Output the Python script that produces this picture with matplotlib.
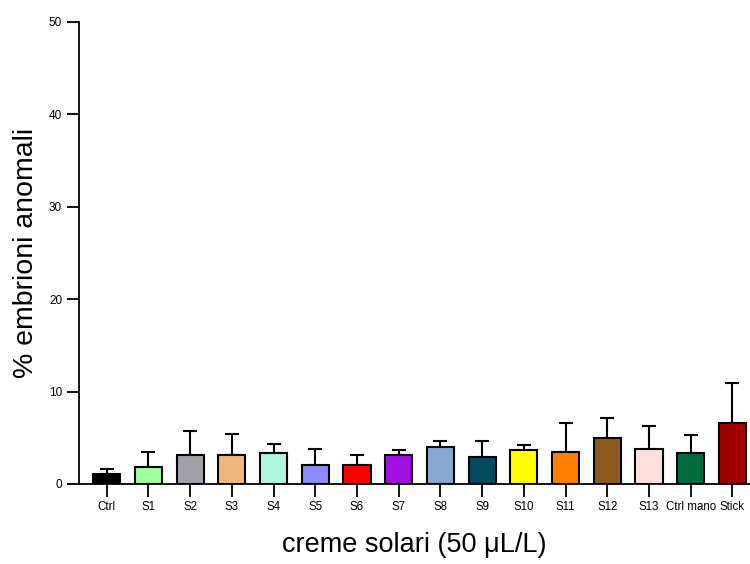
import matplotlib.pyplot as plt
import numpy as np

plt.rcParams['font.family'] = ['Liberation Sans', 'DejaVu Sans']

categories = ['Ctrl', 'S1', 'S2', 'S3', 'S4', 'S5', 'S6', 'S7', 'S8', 'S9',
              'S10', 'S11', 'S12', 'S13', 'Ctrl mano', 'Stick']
means = [1.05, 1.85, 3.17, 3.17, 3.39, 2.02, 2.09, 3.17, 4.0, 2.96,
         3.68, 3.5, 4.98, 3.75, 3.39, 6.6]
# upper error bar (SD), read as top whisker minus mean
errors = [0.55, 1.6, 2.57, 2.28, 0.98, 1.73, 1.01, 0.51, 0.65, 1.66,
          0.58, 3.1, 2.2, 2.53, 1.95, 4.3]
colors = ['#000000', '#A0FFA0', '#A0A0A8', '#F0B880', '#B0F5E0', '#8C8CFF',
          '#FF0000', '#A010E0', '#88A8D0', '#054A60', '#FFFF00', '#FF8000',
          '#8C5A20', '#FFE0E0', '#006A40', '#A00000']

fig = plt.figure(figsize=(7.5, 5.64), dpi=100)
ax = fig.add_axes([0.105, 0.142, 0.895, 0.819])

x = np.arange(len(categories))
ax.bar(x, means, width=0.65, color=colors, edgecolor='black', linewidth=1.5, zorder=2)
ax.errorbar(x, means, yerr=[np.zeros(len(errors)), errors], fmt='none',
            ecolor='black', elinewidth=1.5, capsize=5, capthick=1.5, zorder=1)

ax.set_xlim(-0.67, 15.42)
ax.set_ylim(0, 50)
ax.set_yticks([0, 10, 20, 30, 40, 50])
ax.set_xticks(x)
ax.set_xticklabels(categories, fontsize=8.3)
ax.tick_params(axis='y', labelsize=8.5, length=9, width=1.3, pad=3)
ax.tick_params(axis='x', length=9, width=1.3, pad=3)

ax.spines['top'].set_visible(False)
ax.spines['right'].set_visible(False)
ax.spines['left'].set_linewidth(1.3)
ax.spines['bottom'].set_linewidth(1.3)

ax.set_ylabel('% embrioni anomali', fontsize=20.5, labelpad=7)
ax.set_xlabel('creme solari (50 \u03bcL/L)', fontsize=19.5, labelpad=14)

fig.savefig('out.png', dpi=100)
